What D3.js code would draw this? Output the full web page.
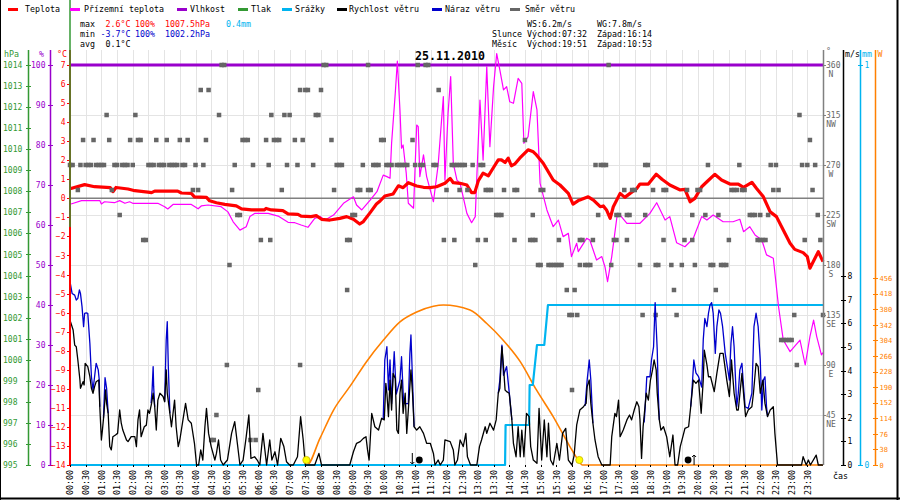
<!DOCTYPE html>
<html>
<head>
<meta charset="utf-8">
<script src="https://cdn.jsdelivr.net/npm/d3@7"></script>
<style>
  body { margin: 0; background: #fff; }
  svg { display: block; }
  text { font-family: "DejaVu Sans Mono", monospace; }
</style>
</head>
<body>
<svg id="chart" width="900" height="500"></svg>
<script>
"use strict";

// ---- data (time in minutes from 00:00) ----
const temperature = [[0,0.50],[28,0.72],[47,0.61],[77,0.56],[82,0.35],[88,0.57],[111,0.49],[124,0.40],[149,0.33],[156,0.30],[162,0.38],[206,0.38],[213,0.28],[232,0.26],[238,0.08],[261,0.05],[267,-0.13],[280,-0.23],[296,-0.32],[318,-0.40],[328,-0.55],[347,-0.61],[372,-0.61],[375,-0.53],[385,-0.61],[407,-0.65],[417,-0.82],[436,-0.84],[442,-0.93],[461,-0.96],[471,-0.91],[481,-1.10],[497,-1.14],[516,-1.05],[529,-0.96],[542,-1.10],[554,-1.35],[561,-1.22],[574,-0.75],[586,-0.30],[593,-0.14],[602,0.12],[618,0.23],[628,0.66],[637,0.56],[647,0.82],[663,0.65],[676,0.58],[688,0.56],[701,0.61],[717,0.79],[727,1.05],[733,0.82],[746,0.79],[759,0.70],[768,0.30],[774,0.30],[781,0.93],[790,1.32],[800,1.18],[809,1.58],[819,2.02],[825,2.02],[832,1.88],[838,2.11],[844,1.71],[851,1.81],[860,2.11],[876,2.55],[886,2.44],[892,2.28],[905,1.84],[924,0.96],[937,0.70],[953,0.26],[962,-0.30],[972,-0.12],[975,-0.09],[991,0.08],[1001,-0.09],[1014,-0.44],[1020,-0.40],[1026,-0.61],[1033,-1.05],[1039,-0.44],[1052,0.26],[1061,0.05],[1071,0.26],[1084,0.52],[1090,0.75],[1106,0.75],[1121,1.27],[1132,1.00],[1147,0.70],[1167,0.44],[1176,0.47],[1186,-0.18],[1195,0.00],[1208,0.61],[1218,0.87],[1233,1.26],[1246,0.96],[1262,0.75],[1278,0.75],[1288,0.58],[1304,0.84],[1313,0.52],[1326,0.08],[1339,-0.71],[1351,-0.96],[1364,-1.66],[1377,-2.36],[1386,-2.68],[1402,-2.85],[1410,-3.06],[1415,-3.67],[1431,-2.80],[1440,-3.32]];

const groundTemp = [[2,-0.30],[22,-0.12],[57,-0.12],[60,-0.30],[66,-0.18],[85,-0.23],[95,-0.12],[105,-0.26],[114,-0.18],[120,-0.26],[168,-0.26],[181,-0.44],[187,-0.56],[197,-0.32],[232,-0.32],[245,-0.55],[251,-0.40],[264,-0.35],[289,-0.44],[302,-0.71],[312,-1.23],[325,-1.67],[337,-1.49],[344,-0.96],[353,-0.79],[379,-0.79],[398,-0.93],[417,-1.26],[430,-1.28],[442,-1.40],[455,-1.52],[468,-1.05],[478,-0.96],[488,-1.14],[504,-0.88],[523,-0.26],[542,0.08],[548,-0.35],[558,-0.61],[574,-0.09],[587,0.35],[599,1.22],[606,1.14],[612,1.05],[615,2.89],[622,5.51],[626,7.2],[631,4.64],[634,2.63],[637,2.8],[643,1.32],[647,-0.26],[657,-0.52],[663,3.85],[666,3.76],[669,1.14],[676,2.28],[682,1.14],[695,-0.18],[704,1.75],[714,5.34],[717,0.96],[723,4.46],[728,6.39],[733,1.84],[740,0.96],[746,0.79],[759,-0.79],[768,-1.28],[775,-0.96],[778,1.14],[784,5.16],[790,2.01],[797,6.91],[803,2.71],[810,5.86],[816,7.6],[822,6.74],[829,5.69],[835,5.86],[841,5.07],[848,4.99],[857,6.30],[864,6.04],[868,2.89],[876,3.24],[886,5.60],[893,4.64],[899,0.79],[912,-0.61],[924,-1.49],[934,-1.14],[943,-2.01],[953,-1.84],[959,-3.06],[969,-2.36],[972,-2.80],[988,-2.10],[994,-2.19],[1007,-3.24],[1017,-3.06],[1023,-3.59],[1028,-4.37],[1036,-3.06],[1046,-0.96],[1052,-0.88],[1065,-1.31],[1090,-1.31],[1109,-0.79],[1122,-0.23],[1138,-1.14],[1147,-0.96],[1160,-2.33],[1176,-2.54],[1192,-2.10],[1208,-0.96],[1218,-1.14],[1230,-0.88],[1249,-1.23],[1268,-1.23],[1281,-1.10],[1288,-1.75],[1300,-1.49],[1310,-1.92],[1323,-2.19],[1332,-2.97],[1345,-3.15],[1355,-5.69],[1364,-7.44],[1377,-8.05],[1396,-7.44],[1406,-8.75],[1415,-7.26],[1422,-6.39],[1428,-7.26],[1437,-8.22],[1440,-8.10]];

const humidity = [[0,100],[1440,100]];

// stray pressure trace at the left edge of the plot
const pressure = [[0,1017.1],[0,1006.3]];

const windSpeed = [[0,6.14],[6,5.72],[9,5.08],[12,5.01],[15,4.45],[19,3.60],[20,3.25],[25,3.53],[27,3.39],[29,4.31],[34,4.17],[38,3.74],[41,3.25],[44,3.04],[47,3.32],[50,3.53],[55,3.60],[57,2.47],[60,1.06],[62,1.48],[65,2.19],[68,3.18],[70,2.61],[73,2.19],[76,0.78],[79,0.64],[82,1.20],[87,1.27],[91,1.34],[95,2.33],[98,1.77],[101,1.48],[108,1.06],[111,0.99],[117,1.20],[124,1.20],[127,0.78],[130,1.91],[133,2.33],[136,1.20],[142,1.62],[146,1.69],[149,2.33],[152,2.19],[156,2.61],[159,3.04],[162,2.47],[165,1.48],[168,2.75],[172,3.04],[178,2.90],[181,2.68],[184,4.03],[186,3.04],[191,2.19],[194,1.62],[200,2.75],[203,1.62],[207,0.78],[210,1.06],[216,1.91],[221,2.61],[226,1.91],[232,1.77],[238,0.92],[242,0],[246,0],[250,0.64],[254,0.21],[258,1.62],[261,2.40],[265,1.34],[270,0.78],[277,0.21],[280,0.49],[284,1.06],[288,0.21],[293,0],[301,0.21],[309,1.34],[315,1.84],[320,0.92],[325,0],[331,0.21],[337,1.20],[342,2.12],[346,0.28],[353,0.35],[358,0.21],[363,0],[369,1.34],[376,0],[382,1.06],[386,0.21],[392,0.56],[397,0],[403,1.13],[409,0.78],[414,0.14],[420,0],[427,0],[435,0.35],[441,2.05],[446,1.06],[450,0],[468,0],[476,0.49],[481,0],[535,0],[542,0.56],[548,0.92],[555,0.99],[561,1.13],[566,1.20],[569,0.64],[572,0.21],[577,2.19],[583,1.62],[590,1.48],[596,1.98],[601,1.91],[604,3.46],[606,3.04],[609,2.05],[612,3.60],[615,2.33],[618,3.88],[622,3.67],[625,1.48],[628,1.34],[631,3.04],[634,3.60],[637,2.19],[641,3.04],[644,1.34],[647,2.33],[652,4.03],[655,3.04],[658,1.62],[663,1.48],[669,1.62],[676,1.34],[682,0.92],[689,0.92],[695,0.49],[698,0],[704,0.21],[708,0],[714,0.21],[717,1.06],[727,0.99],[733,0.64],[736,0],[741,0.21],[746,1.06],[752,0.78],[757,1.34],[760,0.35],[766,0],[778,0],[783,0.78],[787,1.06],[794,1.62],[797,1.34],[803,1.77],[810,1.48],[815,1.91],[819,3.04],[822,3.25],[826,5.01],[829,4.17],[832,3.18],[835,3.11],[840,3.04],[845,1.91],[848,0.92],[853,0.35],[857,1.62],[861,0.35],[864,1.48],[868,0.35],[873,2.19],[878,2.05],[881,0.78],[886,0.21],[893,0.07],[897,2.40],[902,0.21],[907,1.91],[912,0.35],[915,1.77],[919,0.21],[924,0],[931,0.92],[936,0.21],[942,1.34],[948,1.55],[953,0.21],[960,0],[964,0.4],[969,1.7],[975,2.33],[982,2.47],[987,2.61],[989,3.32],[993,3.60],[996,2.61],[1000,1.77],[1004,1.06],[1010,0.35],[1017,0],[1033,0],[1036,1.20],[1042,2.19],[1045,2.05],[1049,2.75],[1052,1.20],[1058,1.48],[1065,1.91],[1070,2.12],[1074,1.91],[1079,2.33],[1084,2.68],[1088,2.47],[1090,1.91],[1093,0.28],[1096,1.62],[1102,3.04],[1106,2.75],[1110,3.60],[1114,4.03],[1117,4.45],[1121,4.03],[1123,3.04],[1127,1.91],[1130,1.48],[1135,1.62],[1141,1.20],[1147,0.35],[1153,1.27],[1157,0],[1162,0],[1167,0.78],[1172,1.20],[1176,1.55],[1183,1.62],[1187,2.47],[1192,3.60],[1197,3.46],[1202,3.60],[1207,2.19],[1211,3.60],[1213,4.87],[1218,4.24],[1221,3.74],[1225,3.74],[1232,3.11],[1237,3.88],[1243,4.73],[1249,4.73],[1256,3.60],[1261,2.90],[1265,4.45],[1270,3.04],[1275,2.33],[1278,2.33],[1285,3.88],[1288,3.04],[1292,2.05],[1297,2.33],[1304,2.47],[1307,3.04],[1312,4.31],[1316,4.17],[1320,3.04],[1325,3.60],[1329,2.61],[1334,2.05],[1339,2.33],[1345,2.47],[1348,1.34],[1353,0],[1399,0],[1402,0.35],[1408,0],[1412,0.21],[1416,0],[1427,0.42],[1431,0],[1440,0]];

// gust only where it shows above the speed line (null = gap)
const windGust = [[0,7.77],[4,7.27],[9,7.20],[12,6.99],[15,7.06],[18,7.42],[20,7.27],[23,6.71],[26,5.86],[28,6.43],[31,6.45],[34,6.43],[38,5.16],[41,3.74],[44,3.18],[47,3.74],[50,4.31],[54,4.03],[56,3.60],[57,2.47],null,
  [64,2.0],[67,3.7],[70,3.25],[73,2.19],null,
  [155,2.61],[157,3.18],[159,4.17],[160,3.32],[162,2.47],null,
  [181,2.68],[183,4.45],[184,5.30],[186,6.07],[188,4.17],[191,2.19],null,
  [599,1.95],[602,4.45],[606,5.01],[609,3.18],[612,4.45],[615,2.6],[620,4.80],[624,3.0],[631,3.6],[634,4.59],[638,2.6],[647,2.6],[650,4.73],[652,5.51],[655,3.6],[658,1.62],null,
  [819,3.04],[822,3.6],[826,5.08],[829,3.8],[835,4.17],[838,3.5],[842,2.61],[845,1.91],null,
  [985,2.5],[989,3.6],[993,4.45],[996,3.6],[1000,1.77],null,
  [1098,1.8],[1100,2.47],[1103,3.74],[1109,3.74],[1112,4.45],[1116,5.01],[1119,6.88],[1121,5.86],[1123,4.87],[1125,3.04],[1127,1.91],null,
  [1187,2.47],[1189,3.04],[1193,4.45],[1197,3.9],[1202,3.74],[1208,3.3],[1211,5.30],[1214,6.21],[1218,5.86],[1221,6.43],[1224,6.78],[1227,6.88],[1230,6.43],[1234,4.73],[1237,5.86],[1241,6.57],[1244,6.43],[1248,5.86],[1253,4.73],[1257,4.17],[1261,3.6],[1264,5.16],[1267,5.86],[1270,5.01],[1275,2.47],[1278,3.04],[1281,4.03],[1285,4.31],[1288,3.32],[1291,2.47],[1297,2.4],[1304,3.04],[1308,5.86],[1312,6.43],[1316,5.86],[1320,4.45],[1323,2.33],[1326,3.6],[1329,3.74],[1332,2.47],[1334,2.05]];

const rainfall = [[0,0],[832,0],[833,0.1],[878,0.1],[879,0.2],[885,0.2],[893,0.3],[907,0.3],[914,0.4],[1440,0.4]];

const radiation = [[0,0],[453,0],[478,65],[504,134],[535,191],[567,252],[599,304],[631,349],[663,373],[695,387],[714,390],[765,378],[797,345],[828,305],[861,252],[892,183],[924,118],[956,45],[972,12],[980,0],[1440,0]];

// wind direction samples: [degrees, minutes]
const windDir = [
  [360,  [290,295,485,490,570,665,680,685,1030]],
  [337.5,[250,265,440,450,455,480,705]],
  [315,  [70,125,285,385,410,420,470,475,1395]],
  [292.5,[25,45,75,115,130,135,165,185,210,225,260,330,335,340,375,390,395,400,430,445,500,595,600,655,870,1415]],
  [270,  [0,5,20,30,35,40,50,55,60,65,85,90,100,105,110,120,150,155,160,170,175,180,190,195,200,205,215,220,240,255,315,350,380,415,435,465,510,515,520,560,580,585,590,605,610,615,625,630,635,640,645,660,670,675,695,700,730,735,740,745,750,755,770,785,790,1005,1015,1020,1025,1100,1105,1220,1280,1340,1350,1400,1410,1425]],
  [247.5,[15,80,235,245,310,405,505,550,555,570,575,720,745,760,795,800,805,830,850,855,900,905,1060,1075,1080,1115,1135,1140,1180,1200,1205,1265,1270,1275,1285,1290,1345,1355,1420]],
  [225,  [95,320,325,540,545,815,820,825,885,1010,1045,1050,1065,1070,1100,1190,1215,1240,1300,1305,1310,1320,1335,1430]],
  [202.5,[140,145,365,383,530,535,715,735,780,795,850,880,885,890,935,975,980,1000,1040,1045,1065,1135,1175,1190,1260,1315,1320,1325,1330,1405,1435]],
  [180,  [305,775,895,900,915,920,925,930,935,940,975,985,990,995,1035,1090,1120,1125,1150,1170,1195,1225,1230,1245,1250,1255]],
  [157.5,[530,950,965,1155,1235]],
  [135,  [955,960,970,1095,1120,1160,1385,1440]],
  [112.5,[1360,1365,1370,1375,1380]],
  [90,   [300,440,1390]],
  [67.5, [360,960]],
  [45,   [280]],
  [22.5, [270,275,345,355]]
];

const sunMarks = [452, 974];      // 07:32, 16:14
const moonMarks = [668, 1182];    // where the moon dots sit in the picture

const timeTicks = d3.range(0, 1440, 30);
const dirTicks = [45, 90, 135, 180, 225, 270, 315, 360];
const dirNames = ["NE", "E", "SE", "S", "SW", "W", "NW", "N"];
const tempTicks = d3.range(-14, 8);
const humTicks = d3.range(0, 101, 10);
const pressTicks = d3.range(995, 1015);
const windTicks = d3.range(0, 9);
const rainTicks = [0, 1];
const radTicks = d3.range(0, 457, 38);

const legendNames = ["Teplota", "Přízemní teplota", "Vlhkost", "Tlak", "Srážky", "Rychlost větru", "Náraz větru", "Směr větru"];

// ---- colours ----
const cRed = "#ff0000", cMag = "#ff00ff", cPur = "#9900cc", cGreen = "#339933",
      cCyan = "#00b4f0", cBlack = "#000000", cBlue = "#0000cc", cGray = "#666666",
      cOrange = "#ff8000";
const legendColors = [cRed, cMag, cPur, cGreen, cCyan, cBlack, cBlue, cGray];

const svg = d3.select("#chart");

const x = d3.scaleLinear().domain([0, 1440]).range([70, 823]);
const yT = d3.scaleLinear().domain([-14, 7]).range([465, 65]);
const yHum = d3.scaleLinear().domain([0, 100]).range([465, 65]);
const yP = d3.scaleLinear().domain([995, 1014]).range([465, 65]);
const yDir = d3.scaleLinear().domain([0, 360]).range([465, 65]);
const yWind = d3.scaleLinear().domain([0, 8]).range([465, 276.2]);
const yRain = d3.scaleLinear().domain([0, 1]).range([465, 65]);
const yRad = d3.scaleLinear().domain([0, 456]).range([465, 278]);

const px = v => Math.round(v) + 0.5;

// frame
svg.append("line").attr("x1", 0.5).attr("x2", 0.5).attr("y1", 0).attr("y2", 500).attr("stroke", "#000");
svg.append("line").attr("x1", 897.5).attr("x2", 897.5).attr("y1", 0).attr("y2", 500).attr("stroke", "#000").attr("stroke-width", 2);
svg.append("line").attr("x1", 0).attr("x2", 900).attr("y1", 498.5).attr("y2", 498.5).attr("stroke", "#000").attr("stroke-width", 2);

// grid
const grid = svg.append("g").attr("stroke", "#e4e4e4").attr("stroke-width", 1).attr("shape-rendering", "crispEdges");
grid.selectAll(".gv").data(timeTicks).join("line").attr("class", "gv")
  .attr("x1", d => px(x(d))).attr("x2", d => px(x(d))).attr("y1", 50).attr("y2", 465);
grid.selectAll(".gh").data(dirTicks.filter(d => d < 360)).join("line").attr("class", "gh")
  .attr("x1", 70).attr("x2", 823).attr("y1", d => px(yDir(d))).attr("y2", d => px(yDir(d)));

// zero degree line
svg.append("line").attr("x1", 70).attr("x2", 823).attr("y1", yT(0)).attr("y2", yT(0))
  .attr("stroke", "#808080").attr("stroke-width", 1.5);

const lineOf = (ys, curve) => d3.line().defined(d => d !== null)
  .x(d => x(d[0])).y(d => ys(d[1])).curve(curve || d3.curveLinear);

function drawSeries(data, ys, color, width, curve) {
  svg.append("path").datum(data).attr("fill", "none").attr("stroke", color)
    .attr("stroke-width", width).attr("stroke-linejoin", "round").attr("d", lineOf(ys, curve));
}

drawSeries(radiation, yRad, cOrange, 1.6, d3.curveMonotoneX);
drawSeries(rainfall, yRain, cCyan, 2.2);
drawSeries(humidity, yHum, cPur, 3);
drawSeries(groundTemp, yT, cMag, 1.2);
drawSeries(temperature, yT, cRed, 3.2);

// wind direction squares
const dirPts = windDir.flatMap(([deg, times]) => times.map(t => [t, deg]));
svg.append("g").attr("fill", cGray).selectAll("rect").data(dirPts).join("rect")
  .attr("x", d => x(d[0]) - 2.25).attr("y", d => yDir(d[1]) - 2.25)
  .attr("width", 4.5).attr("height", 4.5);

drawSeries(windGust, yWind, cBlue, 1.3);
drawSeries(windSpeed, yWind, cBlack, 1.3);

// ---- axes ----
function axisLine(xPos, color, width) {
  svg.append("line").attr("x1", xPos).attr("x2", xPos).attr("y1", 50).attr("y2", 465)
    .attr("stroke", color).attr("stroke-width", width || 1.5);
}
function tidy(g, color, size) {
  g.attr("font-family", null).attr("font-size", null);
  g.select(".domain").remove();
  g.selectAll(".tick line").attr("stroke", color).attr("stroke-width", 1).attr("shape-rendering", "crispEdges");
  g.selectAll(".tick text").attr("fill", color).style("font-size", size + "px");
}

// pressure hPa
axisLine(28.5, cGreen);
const gP = svg.append("g").attr("transform", "translate(28.5,0)")
  .call(d3.axisLeft(yP).tickValues(pressTicks).tickSize(0).tickFormat(d3.format("d")));
tidy(gP, cGreen, 8);
gP.selectAll(".tick line").attr("x1", -2.5).attr("x2", 2.5);
gP.selectAll(".tick text").attr("x", -25.5).attr("text-anchor", "start");

// humidity %
axisLine(50.5, cPur);
const gH = svg.append("g").attr("transform", "translate(50.5,0)")
  .call(d3.axisLeft(yHum).tickValues(humTicks).tickSize(0).tickPadding(5));
tidy(gH, cPur, 8);
gH.selectAll(".tick line").attr("x1", -2.5).attr("x2", 2.5);

// temperature
axisLine(70, cRed, 2);
const gT = svg.append("g").attr("transform", "translate(70,0)")
  .call(d3.axisLeft(yT).tickValues(tempTicks).tickSize(3).tickPadding(1.5));
tidy(gT, cRed, 8);

// stray pressure trace over the temperature axis
drawSeries(pressure, yP, cGreen, 1.5);

// wind direction axis (right)
axisLine(823.5, "#808080");
const gD = svg.append("g").attr("fill", "#666").style("font-size", "8px");
gD.selectAll("line").data(dirTicks).join("line")
  .attr("x1", 823).attr("x2", 826).attr("y1", d => px(yDir(d))).attr("y2", d => px(yDir(d)))
  .attr("stroke", "#808080");
gD.selectAll(".dn").data(dirTicks).join("text").attr("class", "dn")
  .attr("x", 826).attr("y", d => yDir(d) + 3).text(d => d);
gD.selectAll(".dc").data(dirTicks).join("text").attr("class", "dc")
  .attr("x", 831).attr("y", d => yDir(d) + 11.5).attr("text-anchor", "middle")
  .text((d, i) => dirNames[i]);

// wind speed m/s
axisLine(843.5, cBlack);
const gW = svg.append("g").attr("transform", "translate(843.5,0)")
  .call(d3.axisRight(yWind).tickValues(windTicks).tickSize(0).tickPadding(4));
tidy(gW, cBlack, 8);
gW.selectAll(".tick line").attr("x1", -2.5).attr("x2", 2.5);

// rainfall mm
axisLine(860.5, cCyan);
const gR = svg.append("g").attr("transform", "translate(860.5,0)")
  .call(d3.axisRight(yRain).tickValues(rainTicks).tickFormat(d3.format("d")).tickSize(0).tickPadding(4));
tidy(gR, cCyan, 8);
gR.selectAll(".tick line").attr("x1", -2.5).attr("x2", 2.5);

// radiation W
axisLine(875.5, cOrange);
const gS = svg.append("g").attr("transform", "translate(875.5,0)")
  .call(d3.axisRight(yRad).tickValues(radTicks).tickSize(0).tickPadding(4));
tidy(gS, cOrange, 7);
gS.selectAll(".tick line").attr("x1", -2.5).attr("x2", 2.5);

// time axis
const fmtTime = m => String(Math.floor(m / 60)).padStart(2, "0") + ":" + String(m % 60).padStart(2, "0");
const gX = svg.append("g").attr("transform", "translate(0,465)")
  .call(d3.axisBottom(x).tickValues(timeTicks).tickFormat(fmtTime).tickSize(2));
tidy(gX, cBlack, 8.3);
gX.selectAll(".tick text").attr("transform", "rotate(-90)")
  .attr("x", -5).attr("y", 0).attr("dy", "0.35em").attr("text-anchor", "end");

// unit labels
const units = svg.append("g").style("font-size", "8.3px");
units.append("text").attr("x", 4).attr("y", 57).attr("fill", cGreen).text("hPa");
units.append("text").attr("x", 39).attr("y", 57).attr("fill", cPur).text("%");
units.append("text").attr("x", 57).attr("y", 57).attr("fill", cRed).text("°C");
units.append("text").attr("x", 826).attr("y", 54).attr("fill", "#666").text("°");
units.append("text").attr("x", 845).attr("y", 57).attr("fill", cBlack).text("m/s");
units.append("text").attr("x", 862).attr("y", 57).attr("fill", cCyan).text("mm");
units.append("text").attr("x", 877.5).attr("y", 57).attr("fill", cOrange).text("W");
units.append("text").attr("x", 833).attr("y", 479).attr("fill", cBlack).text("čas");

// sun and moon marks
svg.append("g").selectAll("circle").data(sunMarks).join("circle")
  .attr("cx", d => x(d)).attr("cy", 460).attr("r", 3.6)
  .attr("fill", "#ffff00").attr("stroke", "#c8b400").attr("stroke-width", 0.8);
svg.append("g").selectAll("circle").data(moonMarks).join("circle")
  .attr("cx", d => x(d)).attr("cy", 460).attr("r", 3.4).attr("fill", "#000");
const arrows = svg.append("g").attr("stroke", "#000").attr("fill", "none").attr("stroke-width", 1);
arrows.append("path").attr("d", `M${x(moonMarks[0]) - 7},453 v11 M${x(moonMarks[0]) - 9},462 l2,2 l2,-2`);
arrows.append("path").attr("d", `M${x(moonMarks[1]) + 6},465 v-10 M${x(moonMarks[1]) + 4},457 l2,-2 l2,2`);

// ---- header ----
const head = svg.append("g").style("font-size", "8.3px");
const legendLineX = [8, 70, 177, 238, 282, 337, 432, 510];
const legendTextX = [25, 84, 190, 251, 295, 349, 445, 525];
legendNames.forEach((name, i) => {
  head.append("line").attr("x1", legendLineX[i]).attr("x2", legendLineX[i] + 10)
    .attr("y1", 9.5).attr("y2", 9.5).attr("stroke", legendColors[i]).attr("stroke-width", 3);
  head.append("text").attr("x", legendTextX[i]).attr("y", 12).attr("fill", "#000").text(name);
});

const stat = (xx, yy, txt, color, anchor) => head.append("text").attr("x", xx).attr("y", yy)
  .attr("fill", color).attr("text-anchor", anchor || "start").text(txt);
stat(80, 27, "max", "#000");
stat(130.5, 27, "2.6°C", cRed, "end");
stat(135, 27, "100%", cRed);
stat(165, 27, "1007.5hPa", cRed);
stat(226, 27, "0.4mm", cCyan);
stat(80, 37, "min", "#000");
stat(130.5, 37, "-3.7°C", cBlue, "end");
stat(135, 37, "100%", cBlue);
stat(165, 37, "1002.2hPa", cBlue);
stat(80, 47, "avg", "#000");
stat(130.5, 47, "0.1°C", "#000", "end");

stat(527, 27, "WS:6.2m/s", "#000");
stat(597, 27, "WG:7.8m/s", "#000");
stat(492, 37, "Slunce", "#000");
stat(527, 37, "Východ:07:32", "#000");
stat(597, 37, "Západ:16:14", "#000");
stat(492, 47, "Měsíc", "#000");
stat(527, 47, "Východ:19:51", "#000");
stat(597, 47, "Západ:10:53", "#000");

svg.append("text").attr("x", 450).attr("y", 60).attr("text-anchor", "middle")
  .style("font-size", "11.6px").style("font-weight", "bold").text("25.11.2010");
</script>
</body>
</html>
